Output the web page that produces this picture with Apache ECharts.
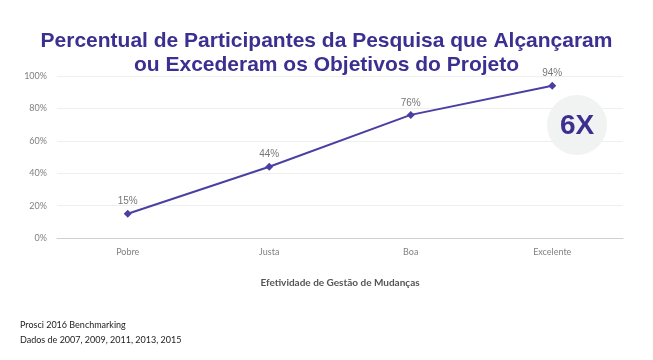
<!DOCTYPE html>
<html><head><meta charset="utf-8">
<script src="https://cdn.jsdelivr.net/npm/echarts@6/dist/echarts.min.js"></script>
<style>html,body{margin:0;padding:0;background:#fff}#c{width:653px;height:360px}</style>
</head><body><div id="c"></div>
<script>
const categories = ['Pobre', 'Justa', 'Boa', 'Excelente'];
const values = [15, 44, 76, 94];
const yTicks = [0, 20, 40, 60, 80, 100];
const titleLines = ['Percentual de Participantes da Pesquisa que Alçançaram', 'ou Excederam os Objetivos do Projeto'];
const xAxisName = 'Efetividade de Gestão de Mudanças';
const footnotes = ['Prosci 2016 Benchmarking', 'Dados de 2007, 2009, 2011, 2013, 2015'];
const badge = '6X';

const chart = echarts.init(document.getElementById('c'), null, {renderer: 'canvas'});
const purple = '#3b2f90';
chart.setOption({
  animation: false,
  title: {
    text: titleLines.join('\n'),
    left: 'center', top: 24,
    textStyle: {fontFamily: 'Liberation Sans', fontWeight: 'bold', fontSize: 21, color: purple, lineHeight: 24}
  },
  grid: {left: 57, right: 30, top: 76, bottom: 122},
  xAxis: {
    type: 'category', data: categories, boundaryGap: true,
    axisLine: {lineStyle: {color: '#d0d0d0'}},
    axisTick: {show: false},
    axisLabel: {color: '#808080', fontSize: 9, fontFamily: 'Lato', margin: 10},
    name: xAxisName, nameLocation: 'middle', nameGap: 40,
    nameTextStyle: {color: '#555', fontSize: 10, fontFamily: 'Lato', fontWeight: 'bold'}
  },
  yAxis: {
    type: 'value', min: yTicks[0], max: yTicks[yTicks.length - 1], interval: 20,
    axisLine: {show: false}, axisTick: {show: false},
    axisLabel: {color: '#808080', fontSize: 9, fontFamily: 'Lato', formatter: '{value}%', margin: 10},
    splitLine: {lineStyle: {color: '#efefef'}}
  },
  graphic: [
    {type: 'circle', shape: {cx: 577, cy: 125, r: 30}, style: {fill: '#f1f2f2'}, z: 1},
    {type: 'text', x: 577, y: 126, style: {text: badge, fill: purple, font: 'bold 28px "Liberation Sans"', align: 'center', verticalAlign: 'middle'}, z: 2},
    {type: 'text', left: 20, top: 318, style: {text: footnotes.join('\n'), fill: '#222', font: '9px Lato', lineHeight: 15}}
  ],
  series: [{
    type: 'line', data: values, z: 5,
    symbol: 'diamond', symbolSize: 8,
    lineStyle: {color: '#4a3fa3', width: 2},
    itemStyle: {color: '#4a3fa3'},
    label: {show: true, position: 'top', formatter: '{c}%', color: '#777', fontSize: 10, fontFamily: 'Liberation Sans', distance: 3}
  }]
});
</script></body></html>
